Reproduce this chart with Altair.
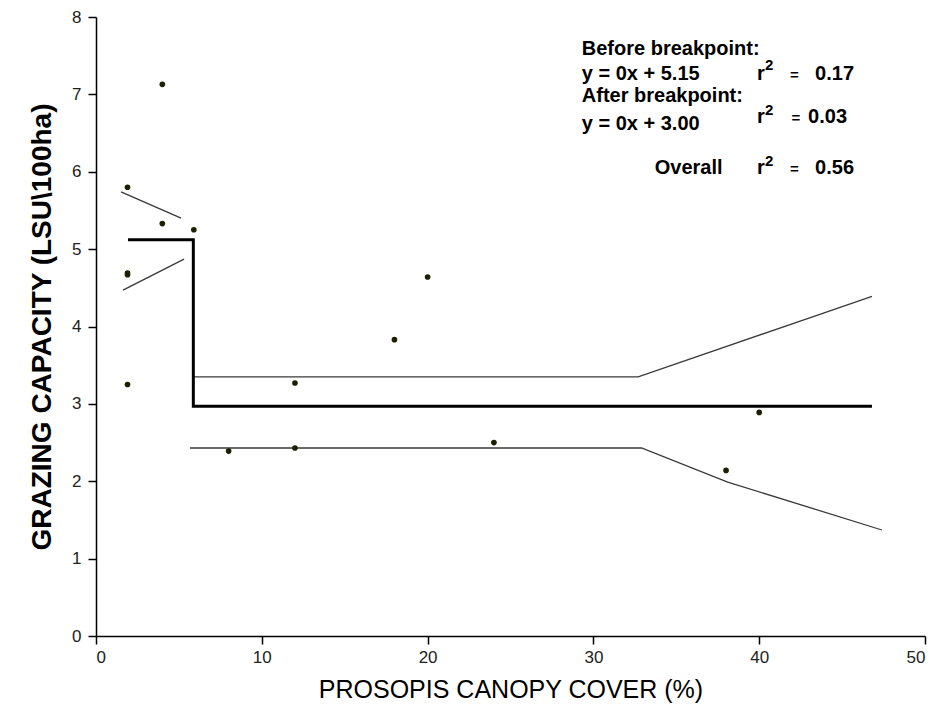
import altair as alt
import pandas as pd

# observations
cover = [1.9, 1.9, 1.9, 1.9, 4.0, 4.0, 5.9, 8.0, 12.0, 12.0, 18.0, 20.0, 24.0, 38.0, 40.0]
capacity = [5.80, 4.69, 4.67, 3.25, 7.13, 5.33, 5.25, 2.39, 3.27, 2.43, 3.83, 4.64, 2.50, 2.14, 2.89]

# breakpoint fit (thick step line)
fit_x = [1.93, 5.87, 5.87, 46.8]
fit_y = [5.12, 5.12, 2.97, 2.97]

# confidence bands
bu_x = [1.51, 5.13]
bu_y = [5.74, 5.40]
bl_x = [1.63, 5.31]
bl_y = [4.47, 4.87]
au_x = [5.87, 32.7, 43.7, 46.8]
au_y = [3.35, 3.35, 4.16, 4.39]
al_x = [5.67, 32.9, 38.1, 47.4]
al_y = [2.43, 2.43, 1.99, 1.37]

# annotation texts
main_text = ["Before breakpoint:", "y = 0x + 5.15", "After breakpoint:", "y = 0x + 3.00",
             "Overall", "r", "r", "r", "0.17", "0.03", "0.56"]
main_x = [29.3, 29.3, 29.3, 29.3, 33.7, 39.87, 39.87, 39.87, 43.37, 42.95, 43.37]
main_y = [7.51, 7.186, 6.90, 6.54, 5.969, 7.186, 6.63, 5.969, 7.186, 6.63, 5.969]
eq_text = ["=", "=", "="]
eq_x = [41.86, 41.95, 41.86]
eq_y = [7.186, 6.63, 5.969]
sup_text = ["2", "2", "2"]
sup_x = [40.35, 40.35, 40.35]
sup_y = [7.315, 6.733, 6.07]

X_TITLE = "PROSOPIS CANOPY COVER (%)"
Y_TITLE = "GRAZING CAPACITY (LSU\\100ha)"

pts = pd.DataFrame({"x": cover, "y": capacity})

rows = []
for name, xs_, ys_ in [("bu", bu_x, bu_y), ("bl", bl_x, bl_y), ("au", au_x, au_y), ("al", al_x, al_y)]:
    for i, (a, b) in enumerate(zip(xs_, ys_)):
        rows.append({"series": name, "x": a, "y": b, "o": i})
bands = pd.DataFrame(rows)
fit = pd.DataFrame({"x": fit_x, "y": fit_y, "o": list(range(len(fit_x)))})
txt = pd.DataFrame({"x": main_x, "y": main_y, "t": main_text})
eq = pd.DataFrame({"x": eq_x, "y": eq_y, "t": eq_text})
sup = pd.DataFrame({"x": sup_x, "y": sup_y, "t": sup_text})

xs = alt.Scale(domain=[0, 50], nice=False, zero=False)
ys = alt.Scale(domain=[0, 8], nice=False, zero=False)

X = alt.X("x:Q", scale=xs, title="cover",
          axis=alt.Axis(values=[0, 10, 20, 30, 40, 50], format="d", title=X_TITLE))
Y = alt.Y("y:Q", scale=ys, title="capacity",
          axis=alt.Axis(values=list(range(0, 9)), format="d", title=Y_TITLE))

band_layer = alt.Chart(bands).mark_line(color="#3a3a3a", strokeWidth=1.3, aria=False).encode(
    x=X, y=Y, detail="series:N", order="o:Q")
fit_layer = alt.Chart(fit).mark_line(color="black", strokeWidth=3, strokeJoin="miter", aria=False).encode(
    x=X, y=Y, order="o:Q")
pt_layer = alt.Chart(pts).mark_circle(color="#1e1e00", opacity=1, size=32, aria=False).encode(x=X, y=Y)


def text_layer(df, size):
    return alt.Chart(df).mark_text(align="left", baseline="alphabetic", font="Liberation Sans",
                                   fontSize=size, fontWeight="bold", color="black", aria=False).encode(
        x="x:Q", y="y:Q", text="t:N")


chart = alt.layer(band_layer, fit_layer, pt_layer, text_layer(txt, 20), text_layer(eq, 15),
                  text_layer(sup, 15)).properties(
    width=829, height=619,
    autosize=alt.AutoSizeParams(type="none"),
    padding={"left": 96, "top": 17, "right": 17, "bottom": 92},
    background="white",
).configure_view(stroke=None).configure_axis(
    grid=False, domainColor="black", domainWidth=1.5, tickColor="black", tickWidth=1.5,
    tickSize=8, labelFont="Liberation Sans", labelFontSize=17, labelColor="#222222",
    titleFont="Liberation Sans", titleColor="black",
).configure_axisX(
    labelPadding=5, titleFontSize=25, titleFontWeight="normal", titlePadding=12,
).configure_axisY(
    labelPadding=7, titleFontSize=28, titleFontWeight="bold", titlePadding=15,
)

chart.save("out.html", embed_options={"renderer": "svg", "actions": False})
